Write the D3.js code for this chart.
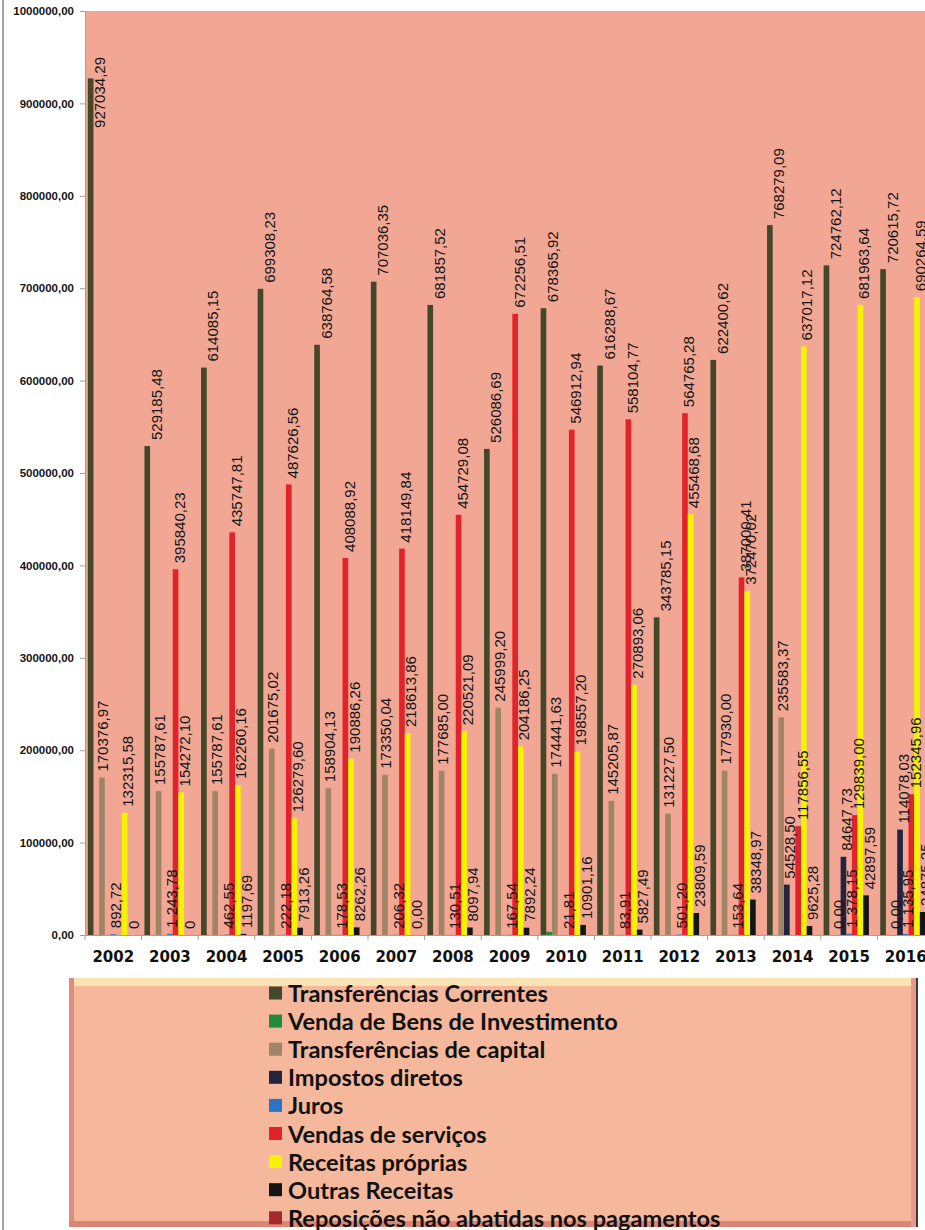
<!DOCTYPE html>
<html><head><meta charset="utf-8">
<script src="https://cdn.jsdelivr.net/npm/d3@7"></script>
<style>html,body{margin:0;padding:0;background:#fff;} svg{display:block;}</style>
</head><body>
<svg id="chart" width="925" height="1230"></svg>
<script>
// ---------------- DATA ----------------
const years = ["2002","2003","2004","2005","2006","2007","2008","2009","2010","2011","2012","2013","2014","2015","2016"];
const seriesNames = [
  "Transferências Correntes",
  "Venda de Bens de Investimento",
  "Transferências de capital",
  "Impostos diretos",
  "Juros",
  "Vendas de serviços",
  "Receitas próprias",
  "Outras Receitas",
  "Reposições não abatidas nos pagamentos"
];
const transfCorrentes = [927034.29, 529185.48, 614085.15, 699308.23, 638764.58, 707036.35, 681857.52, 526086.69, 678365.92, 616288.67, 343785.15, 622400.62, 768279.09, 724762.12, 720615.72];
const vendaBensInvestimento = [null, null, null, null, null, null, null, null, 3500, null, null, null, null, null, null];
const transfCapital = [170376.97, 155787.61, 155787.61, 201675.02, 158904.13, 173350.04, 177685.00, 245999.20, 174441.63, 145205.87, 131227.50, 177930.00, 235583.37, 0, 0];
const impostosDiretos = [null, null, null, null, null, null, null, null, null, null, null, null, 54528.50, 84647.73, 114078.03];
const juros = [892.72, 1243.78, 462.55, 222.18, 178.53, 206.32, 130.51, 167.54, 21.81, 83.91, 501.20, 153.64, null, 1378.15, 1135.95];
const vendasServicos = [null, 395840.23, 435747.81, 487626.56, 408088.92, 418149.84, 454729.08, 672256.51, 546912.94, 558104.77, 564765.28, 387000.41, 117856.55, 129839.00, 152345.96];
const receitasProprias = [132315.58, 154272.10, 162260.16, 126279.60, 190886.26, 218613.86, 220521.09, 204186.25, 198557.20, 270893.06, 455468.68, 372470.02, 637017.12, 681963.64, 690264.59];
const outrasReceitas = [0, 0, 1197.69, 7913.26, 8262.26, 0, 8097.94, 7892.24, 10901.16, 5827.49, 23809.59, 38348.97, 9625.28, 42897.59, 24875.25];
const reposicoes = [null, null, null, null, null, null, null, null, null, null, null, null, null, null, null];
const yTickValues = [0, 100000, 200000, 300000, 400000, 500000, 600000, 700000, 800000, 900000, 1000000];
// labels shown as integer "0" in these years for Outras Receitas
const integerZeroYears = ["2002", "2003"];

const seriesValues = [transfCorrentes, vendaBensInvestimento, transfCapital, impostosDiretos, juros, vendasServicos, receitasProprias, outrasReceitas, reposicoes];
// which series show data labels
const seriesLabelled = [true, false, true, true, true, true, true, true, false];

// ---------------- STYLE ----------------
const seriesColors = ["#45472b", "#1f8c3b", "#a08466", "#23253f", "#2b74c8", "#e2232b", "#f7f300", "#151515", "#a8292d"];
const seriesLabelDx = [9, 2, 1, 3, 2, 4, 3, 3, 2];

const W = 925, H = 1230;
const plot = {left: 85, right: 934, top: 11, bottom: 935};

const svg = d3.select("#chart");
svg.append("rect").attr("width", W).attr("height", H).attr("fill", "#fff");

const clip = svg.append("defs").append("clipPath").attr("id", "pageclip");
clip.append("rect").attr("x", 0).attr("y", 0).attr("width", W).attr("height", H);

svg.append("line").attr("x1", 3).attr("x2", 3).attr("y1", 0).attr("y2", H)
  .attr("stroke", "#8c8c8c").attr("stroke-width", 1.6);

svg.append("rect").attr("x", plot.left).attr("y", plot.top)
  .attr("width", plot.right - plot.left).attr("height", plot.bottom - plot.top)
  .attr("fill", "#f2a795");

const y = d3.scaleLinear().domain([0, 1000000]).range([plot.bottom, plot.top]);
const x0 = d3.scaleBand().domain(years).range([plot.left, plot.right]).paddingInner(0.1).paddingOuter(0.05);
const x1 = d3.scaleBand().domain(seriesNames).range([0, x0.bandwidth()]).padding(0);

const fmtPlain = d3.formatLocale({decimal: ",", thousands: "", grouping: [3]}).format(".2f");
const fmtSpace = d3.formatLocale({decimal: ",", thousands: " ", grouping: [3]}).format(",.2f");

// Y axis
const gy = svg.append("g").attr("transform", `translate(${plot.left},0)`)
  .call(d3.axisLeft(y).tickValues(yTickValues).tickSize(5).tickPadding(6).tickFormat(d => fmtPlain(d)));
gy.select(".domain").attr("stroke", "#a0a0a0");
gy.selectAll(".tick line").attr("stroke", "#a0a0a0");
gy.selectAll("text").attr("font-family", "'Liberation Sans', Arial, sans-serif")
  .attr("font-weight", "bold").attr("font-size", 11.5).attr("fill", "#151515");

// X axis
const gx = svg.append("g").attr("transform", `translate(0,${plot.bottom})`)
  .call(d3.axisBottom(x0).tickSize(0).tickPadding(16));
gx.select(".domain").attr("stroke", "#a0a0a0");
gx.selectAll("text").attr("font-family", "'DejaVu Sans', sans-serif")
  .attr("font-weight", "900").attr("font-size", 15).attr("fill", "#111");
const half = x0.step() * x0.paddingInner() / 2;
const boundaries = years.map(yr => x0(yr) - half).concat([x0(years[years.length - 1]) + x0.bandwidth() + half]);
gx.selectAll(".bound").data(boundaries).enter().append("line")
  .attr("x1", d => d).attr("x2", d => d).attr("y1", 0).attr("y2", 5)
  .attr("stroke", "#a0a0a0");

// Bars
const root = svg.append("g").attr("clip-path", "url(#pageclip)");
const groups = root.selectAll(".grp").data(years).enter().append("g")
  .attr("transform", yr => `translate(${x0(yr)},0)`);
groups.each(function(yr, yi) {
  const g = d3.select(this);
  seriesNames.forEach((s, si) => {
    const v = seriesValues[si][yi];
    if (v === null || v === undefined) return;
    g.append("rect")
      .attr("x", x1(s)).attr("width", x1.bandwidth())
      .attr("y", y(v)).attr("height", y(0) - y(v))
      .attr("fill", seriesColors[si]);
  });
});

// Data labels
const labelLayer = root.append("g");
years.forEach((yr, yi) => {
  seriesNames.forEach((s, si) => {
    const v = seriesValues[si][yi];
    if (v === null || v === undefined || !seriesLabelled[si]) return;
    let txt;
    if (si === 7 && v === 0 && integerZeroYears.includes(yr)) txt = "0";
    else if (si === 4) txt = fmtSpace(v);
    else txt = fmtPlain(v);
    const cx = x0(yr) + x1(s) + x1.bandwidth() / 2 + seriesLabelDx[si];
    const t = labelLayer.append("text")
      .attr("font-family", "'Liberation Sans', Arial, sans-serif")
      .attr("font-size", 15).attr("fill", "#141414")
      .attr("text-anchor", "start").attr("dominant-baseline", "central")
      .text(txt);
    const len = t.node().getComputedTextLength();
    let start = y(v) - 6;
    if (start - len < 57) start = 57 + len;
    t.attr("x", cx).attr("y", start).attr("transform", `rotate(-90,${cx},${start})`);
  });
});

// Legend
const lg = svg.append("g");
const L = {x: 69, y: 978, w: 848, h: 249};
lg.append("rect").attr("x", L.x).attr("y", L.y).attr("width", L.w).attr("height", L.h).attr("fill", "#f5b89c");
lg.append("rect").attr("x", L.x).attr("y", L.y).attr("width", L.w).attr("height", 8).attr("fill", "#fbe4b4");
lg.append("rect").attr("x", L.x).attr("y", L.y).attr("width", 5).attr("height", L.h).attr("fill", "#dc8d7f");
lg.append("rect").attr("x", L.x).attr("y", L.y + L.h - 6).attr("width", L.w).attr("height", 6).attr("fill", "#dc8576");
lg.append("rect").attr("x", L.x + L.w - 6).attr("y", L.y).attr("width", 5).attr("height", L.h).attr("fill", "#e59a8c");
lg.append("line").attr("x1", L.x + L.w).attr("x2", L.x + L.w).attr("y1", L.y).attr("y2", L.y + L.h)
  .attr("stroke", "#3a3a3a").attr("stroke-width", 2);

// auto-fit the legend font so the first entry spans ~260px
const probe = lg.append("text").attr("font-family", "Lato, 'Open Sans', sans-serif").attr("font-weight", "bold")
  .attr("font-size", 20).text(seriesNames[0]);
const pw = probe.node().getComputedTextLength();
probe.remove();
const legendFont = 20 * 260 / pw;

seriesNames.forEach((s, i) => {
  const cy = 993 + i * 28.1;
  lg.append("rect").attr("x", 269).attr("y", cy - 6.5).attr("width", 13).attr("height", 13)
    .attr("fill", seriesColors[i]);
  lg.append("text").attr("x", 288).attr("y", cy).attr("dominant-baseline", "central")
    .attr("font-family", "Lato, 'Open Sans', sans-serif").attr("font-weight", "bold")
    .attr("font-size", legendFont).attr("fill", "#111").text(s);
});
</script>
</body></html>
